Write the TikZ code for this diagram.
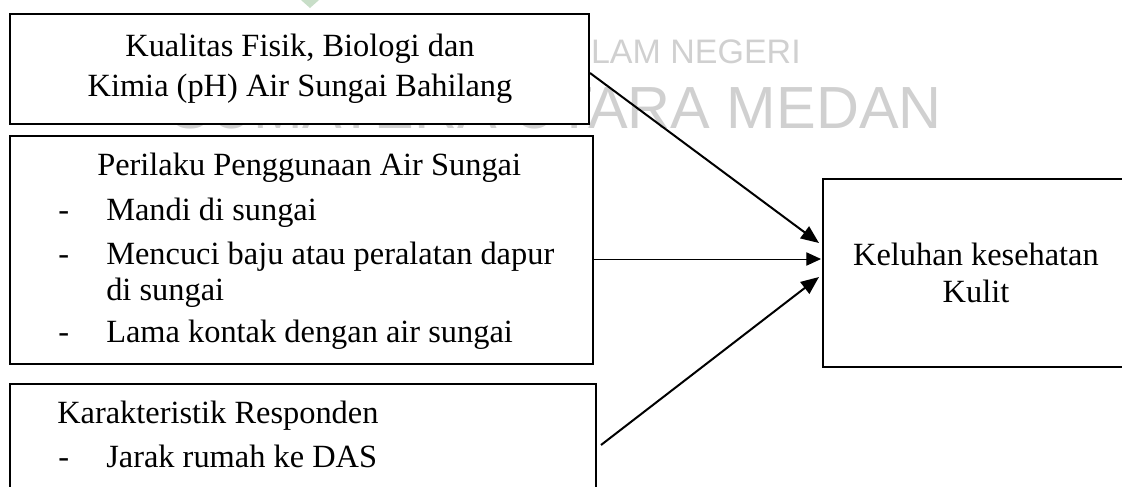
\documentclass[tikz,border=0pt]{standalone}
\usepackage{fontspec}
\setmainfont{Liberation Serif}
\newfontfamily\wmfont{Liberation Sans}
\usetikzlibrary{arrows.meta,calc}
\definecolor{wmgray}{RGB}{208,208,208}
\definecolor{wmgreen}{RGB}{200,222,200}
\begin{document}
\begin{tikzpicture}[x=0.75pt,y=-0.75pt,
  box/.style={draw, line width=1.5pt, fill=white, inner sep=0pt},
  txt/.style={inner sep=0pt, font=\fontsize{24.3}{28}\selectfont},
  wm/.style={inner sep=0pt, text=wmgray},
  arr/.style={-{Triangle[length=13.5pt,width=11pt]}, line width=1.5pt},
  thinarr/.style={-{Triangle[length=11pt,width=10pt]}, line width=0.75pt}]
\useasboundingbox (0,0) rectangle (1122,486);
% watermark
\fill[wmgreen] (301,0) -- (319,0) -- (310,8) -- cycle;
\node[wm, anchor=base east, font=\wmfont\fontsize{25.5}{28}\selectfont] (wm1) at (801,63) {LAM NEGERI};
\node[wm, anchor=base east, font=\wmfont\fontsize{44.6}{48}\selectfont] (wm2) at (942,128) {SUMATERA UTARA MEDAN};
% boxes
\node[box, minimum width=434.25pt, minimum height=82.5pt] (b1) at (299.5,69) {};
\node[box, minimum width=437.25pt, minimum height=171pt] (b2) at (301.5,250) {};
\node[box, minimum width=439.5pt, minimum height=94.5pt] (b3) at (303,447) {};
\node[box, minimum width=229.5pt, minimum height=141pt] (out) at (976,273) {};
% box 1 text
\node[txt, anchor=base] (t11) at (300,56) {Kualitas Fisik, Biologi dan};
\node[txt, anchor=base] (t12) at (300,96) {Kimia (pH) Air Sungai Bahilang};
% box 2 text
\node[txt, anchor=base west] (t20) at (97,175) {Perilaku Penggunaan Air Sungai};
\node[txt, anchor=base west] (d21) at (58,220) {-};
\node[txt, anchor=base west] (t21) at (106,220) {Mandi di sungai};
\node[txt, anchor=base west] (d22) at (58,264) {-};
\node[txt, anchor=base west] (t22) at (106,264) {Mencuci baju atau peralatan dapur};
\node[txt, anchor=base west] (t23) at (106,300) {di sungai};
\node[txt, anchor=base west] (d24) at (58,342) {-};
\node[txt, anchor=base west] (t24) at (106,342) {Lama kontak dengan air sungai};
% box 3 text
\node[txt, anchor=base west] (t30) at (57,423) {Karakteristik Responden};
\node[txt, anchor=base west] (d31) at (58,467) {-};
\node[txt, anchor=base west] (t31) at (106,467) {Jarak rumah ke DAS};
% output text
\node[txt, anchor=base] (o1) at (976,265) {Keluhan kesehatan};
\node[txt, anchor=base] (o2) at (976,302) {Kulit};
% arrows
\draw[arr] ($(b1.east)+(0,4)$) -- ($(out.west)+(-3,-30)$);
\draw[thinarr] ($(b2.east)+(0,9)$) -- ($(out.west)+(-1,-14)$);
\draw[arr] ($(b3.north east)+(4,62)$) -- ($(out.west)+(-3,4)$);
\end{tikzpicture}
\end{document}
